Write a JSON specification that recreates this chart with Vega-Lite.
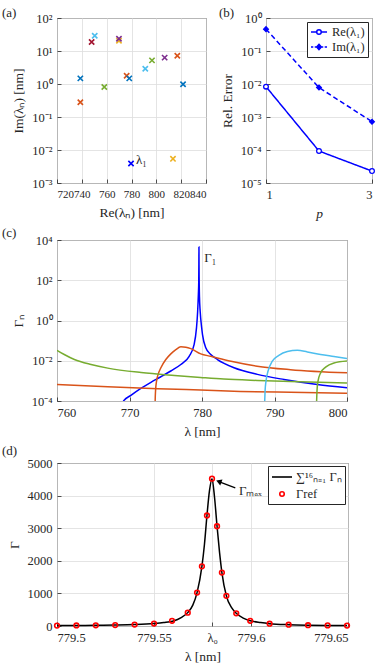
{
  "$schema": "https://vega.github.io/schema/vega-lite/v6.json",
  "padding": {"left": 1, "top": 6, "right": 0, "bottom": 0},
  "background": "white",
  "config": {
    "font": "Liberation Serif",
    "view": {"stroke": "#262626", "strokeWidth": 1},
    "axis": {
      "labelFont": "Liberation Serif", "labelFontSize": 12.5, "labelColor": "#262626", "labelOverlap": false,
      "titleFont": "Liberation Serif", "titleFontSize": 13.5, "titleFontWeight": "normal", "titleColor": "#262626",
      "domain": false, "tickColor": "#262626", "tickSize": -4, "tickWidth": 0.8, "tickCount": 20,
      "gridColor": "#dddddd", "gridWidth": 0.8, "labelPadding": 9, "titlePadding": 6
    },
    "legend": {"labelFont": "Liberation Serif", "labelFontSize": 12.5, "labelColor": "#262626"},
    "title": {"font": "Liberation Serif", "fontSize": 13, "fontWeight": "normal", "color": "#262626", "anchor": "start", "frame": "group", "offset": 0, "baseline": "alphabetic"}
  },
  "datasets": {
    "scatter": [
      {"re": 738.8, "im": 1.48, "g": "c1"},
      {"re": 738.8, "im": 0.28, "g": "c2"},
      {"re": 747.9, "im": 18.7, "g": "c7"},
      {"re": 750.4, "im": 29, "g": "c6"},
      {"re": 758.1, "im": 0.81, "g": "c5"},
      {"re": 769.9, "im": 20.5, "g": "c3"},
      {"re": 769.9, "im": 23.5, "g": "c4"},
      {"re": 776.1, "im": 1.78, "g": "c2"},
      {"re": 778.2, "im": 1.48, "g": "c1"},
      {"re": 779.6, "im": 0.0039, "g": "l1", "label": "λ₁"},
      {"re": 791.1, "im": 2.9, "g": "c6"},
      {"re": 796.5, "im": 5.2, "g": "c5"},
      {"re": 806.7, "im": 6.3, "g": "c4"},
      {"re": 816.9, "im": 7.2, "g": "c2"},
      {"re": 813.4, "im": 0.0054, "g": "c3"},
      {"re": 821.5, "im": 0.98, "g": "c1"}
    ],
    "conv": [
      {"p": 1, "err": 0.0083, "s": "Re(λ₁)"},
      {"p": 2, "err": 0.000093, "s": "Re(λ₁)"},
      {"p": 3, "err": 0.000023, "s": "Re(λ₁)"},
      {"p": 1, "err": 0.46, "s": "Im(λ₁)"},
      {"p": 2, "err": 0.0078, "s": "Im(λ₁)"},
      {"p": 3, "err": 0.00072, "s": "Im(λ₁)"}
    ],
    "curves": [
      {"lam": 769.0, "gam": 0.00006, "c": "b"},
      {"lam": 769.18, "gam": 0.0001, "c": "b"},
      {"lam": 770.19, "gam": 0.00019, "c": "b"},
      {"lam": 771.57, "gam": 0.00042, "c": "b"},
      {"lam": 772.95, "gam": 0.00085, "c": "b"},
      {"lam": 774.33, "gam": 0.0016, "c": "b"},
      {"lam": 775.7, "gam": 0.0031, "c": "b"},
      {"lam": 777.08, "gam": 0.0065, "c": "b"},
      {"lam": 778.23, "gam": 0.0166, "c": "b"},
      {"lam": 778.91, "gam": 0.063, "c": "b"},
      {"lam": 779.24, "gam": 0.43, "c": "b"},
      {"lam": 779.4, "gam": 2.8, "c": "b"},
      {"lam": 779.5, "gam": 20, "c": "b"},
      {"lam": 779.55, "gam": 80, "c": "b"},
      {"lam": 779.57, "gam": 700, "c": "b"},
      {"lam": 779.58, "gam": 4500, "c": "b"},
      {"lam": 779.59, "gam": 600, "c": "b"},
      {"lam": 779.61, "gam": 100, "c": "b"},
      {"lam": 779.65, "gam": 15, "c": "b"},
      {"lam": 779.75, "gam": 2.8, "c": "b"},
      {"lam": 779.95, "gam": 0.45, "c": "b"},
      {"lam": 780.07, "gam": 0.2, "c": "b"},
      {"lam": 780.52, "gam": 0.044, "c": "b"},
      {"lam": 781.21, "gam": 0.0204, "c": "b"},
      {"lam": 782.13, "gam": 0.0115, "c": "b"},
      {"lam": 784.42, "gam": 0.0045, "c": "b"},
      {"lam": 787.64, "gam": 0.0021, "c": "b"},
      {"lam": 791.31, "gam": 0.00117, "c": "b"},
      {"lam": 795.9, "gam": 0.00066, "c": "b"},
      {"lam": 800, "gam": 0.00046, "c": "b"},
      {"lam": 773.53, "gam": 0.00005, "c": "o1"},
      {"lam": 773.54, "gam": 0.0001, "c": "o1"},
      {"lam": 773.59, "gam": 0.00031, "c": "o1"},
      {"lam": 773.73, "gam": 0.00098, "c": "o1"},
      {"lam": 773.95, "gam": 0.0021, "c": "o1"},
      {"lam": 774.33, "gam": 0.0045, "c": "o1"},
      {"lam": 775.01, "gam": 0.0115, "c": "o1"},
      {"lam": 775.7, "gam": 0.0219, "c": "o1"},
      {"lam": 776.39, "gam": 0.0355, "c": "o1"},
      {"lam": 777.08, "gam": 0.049, "c": "o1"},
      {"lam": 777.77, "gam": 0.047, "c": "o1"},
      {"lam": 778.46, "gam": 0.04, "c": "o1"},
      {"lam": 779.83, "gam": 0.0219, "c": "o1"},
      {"lam": 781.21, "gam": 0.0166, "c": "o1"},
      {"lam": 784.0, "gam": 0.0095, "c": "o1"},
      {"lam": 787.6, "gam": 0.0054, "c": "o1"},
      {"lam": 792.2, "gam": 0.0036, "c": "o1"},
      {"lam": 800, "gam": 0.0025, "c": "o1"},
      {"lam": 760, "gam": 0.00066, "c": "o2"},
      {"lam": 767, "gam": 0.00051, "c": "o2"},
      {"lam": 773.9, "gam": 0.00041, "c": "o2"},
      {"lam": 779.8, "gam": 0.00035, "c": "o2"},
      {"lam": 785.3, "gam": 0.0003, "c": "o2"},
      {"lam": 792.2, "gam": 0.00027, "c": "o2"},
      {"lam": 800, "gam": 0.000245, "c": "o2"},
      {"lam": 760, "gam": 0.033, "c": "g1"},
      {"lam": 761.0, "gam": 0.0204, "c": "g1"},
      {"lam": 762.4, "gam": 0.0115, "c": "g1"},
      {"lam": 764.7, "gam": 0.0065, "c": "g1"},
      {"lam": 767.0, "gam": 0.0043, "c": "g1"},
      {"lam": 771.6, "gam": 0.0026, "c": "g1"},
      {"lam": 776.2, "gam": 0.00186, "c": "g1"},
      {"lam": 779.8, "gam": 0.00148, "c": "g1"},
      {"lam": 783.0, "gam": 0.00123, "c": "g1"},
      {"lam": 787.6, "gam": 0.00105, "c": "g1"},
      {"lam": 792.2, "gam": 0.00093, "c": "g1"},
      {"lam": 800, "gam": 0.00079, "c": "g1"},
      {"lam": 788.62, "gam": 0.00005, "c": "lb"},
      {"lam": 788.65, "gam": 0.0001, "c": "lb"},
      {"lam": 788.7, "gam": 0.00031, "c": "lb"},
      {"lam": 788.83, "gam": 0.00098, "c": "lb"},
      {"lam": 789.1, "gam": 0.003, "c": "lb"},
      {"lam": 789.7, "gam": 0.0095, "c": "lb"},
      {"lam": 790.6, "gam": 0.0186, "c": "lb"},
      {"lam": 791.78, "gam": 0.0288, "c": "lb"},
      {"lam": 793.15, "gam": 0.0331, "c": "lb"},
      {"lam": 794.53, "gam": 0.0275, "c": "lb"},
      {"lam": 796.36, "gam": 0.0204, "c": "lb"},
      {"lam": 798.2, "gam": 0.0162, "c": "lb"},
      {"lam": 800, "gam": 0.0129, "c": "lb"},
      {"lam": 795.78, "gam": 0.00005, "c": "g2"},
      {"lam": 795.81, "gam": 0.0001, "c": "g2"},
      {"lam": 795.86, "gam": 0.00031, "c": "g2"},
      {"lam": 796.0, "gam": 0.00098, "c": "g2"},
      {"lam": 796.36, "gam": 0.0025, "c": "g2"},
      {"lam": 797.05, "gam": 0.0048, "c": "g2"},
      {"lam": 798.2, "gam": 0.0078, "c": "g2"},
      {"lam": 800, "gam": 0.0098, "c": "g2"}
    ],
    "sum": [
      {"lam": 779.5, "g": 12}, {"lam": 779.51, "g": 15}, {"lam": 779.52, "g": 20},
      {"lam": 779.53, "g": 28}, {"lam": 779.54, "g": 43}, {"lam": 779.55, "g": 75},
      {"lam": 779.555, "g": 105}, {"lam": 779.56, "g": 155}, {"lam": 779.564, "g": 260},
      {"lam": 779.5674, "g": 410}, {"lam": 779.57, "g": 640}, {"lam": 779.5722, "g": 1025},
      {"lam": 779.5747, "g": 1830}, {"lam": 779.576, "g": 2500}, {"lam": 779.5773, "g": 3390},
      {"lam": 779.5786, "g": 4150}, {"lam": 779.5799, "g": 4520}, {"lam": 779.5812, "g": 3950},
      {"lam": 779.5825, "g": 3060}, {"lam": 779.5838, "g": 2250}, {"lam": 779.585, "g": 1640},
      {"lam": 779.5873, "g": 925}, {"lam": 779.59, "g": 560}, {"lam": 779.5924, "g": 390},
      {"lam": 779.596, "g": 240}, {"lam": 779.5996, "g": 160}, {"lam": 779.605, "g": 105},
      {"lam": 779.6096, "g": 72}, {"lam": 779.6194, "g": 40}, {"lam": 779.6294, "g": 25},
      {"lam": 779.6395, "g": 18}, {"lam": 779.6495, "g": 12}
    ],
    "ref": [
      {"lam": 779.5, "g": 12}, {"lam": 779.51, "g": 16}, {"lam": 779.52, "g": 21},
      {"lam": 779.53, "g": 28}, {"lam": 779.54, "g": 44}, {"lam": 779.55, "g": 75},
      {"lam": 779.5593, "g": 160}, {"lam": 779.5674, "g": 410}, {"lam": 779.5722, "g": 1025},
      {"lam": 779.5747, "g": 1830}, {"lam": 779.5773, "g": 3390}, {"lam": 779.5799, "g": 4520},
      {"lam": 779.5825, "g": 3060}, {"lam": 779.585, "g": 1640}, {"lam": 779.5873, "g": 925},
      {"lam": 779.5924, "g": 390}, {"lam": 779.5996, "g": 160}, {"lam": 779.6096, "g": 70},
      {"lam": 779.6194, "g": 40}, {"lam": 779.6294, "g": 25}, {"lam": 779.6395, "g": 18},
      {"lam": 779.6495, "g": 12}
    ]
  },
  "bounds": "full",
  "spacing": 5,
  "resolve": {
    "scale": {"color": "independent", "shape": "independent", "fill": "independent", "stroke": "independent", "strokeDash": "independent"},
    "legend": {"color": "independent", "shape": "independent", "fill": "independent", "stroke": "independent", "strokeDash": "independent"}
  },
  "vconcat": [
    {
      "bounds": "flush",
      "spacing": 60,
      "resolve": {
        "scale": {"color": "independent", "shape": "independent", "fill": "independent", "stroke": "independent", "strokeDash": "independent"},
        "legend": {"color": "independent", "shape": "independent", "fill": "independent", "stroke": "independent", "strokeDash": "independent"}
      },
      "hconcat": [
        {
          "width": 149, "height": 165,
          "title": {"text": "(a)", "dx": -55, "dy": 12},
          "data": {"name": "scatter"},
          "layer": [
            {
              "mark": {"type": "point", "shape": "M-1,-1L1,1M-1,1L1,-1", "filled": false, "strokeWidth": 1.6, "size": 28, "opacity": 1},
              "encoding": {
                "x": {"field": "re", "type": "quantitative", "scale": {"domain": [720, 840], "nice": false, "zero": false},
                      "axis": {"values": [720, 740, 760, 780, 800, 820, 840], "tickCount": 20, "title": "Re(λₙ) [nm]", "labelOverlap": false, "labelFontSize": 11}},
                "y": {"field": "im", "type": "quantitative", "scale": {"type": "log", "domain": [0.001, 100], "nice": false},
                      "axis": {"values": [0.001, 0.01, 0.1, 1, 10, 100], "tickCount": 20, "title": "Im(λₙ) [nm]", "labelOverlap": false,
                               "labelExpr": "'10' + replace(replace(replace(replace(replace(replace(replace('' + round(log(datum.value)/LN10), '-', '⁻'), '0', '⁰'), '1', '¹'), '2', '²'), '3', '³'), '4', '⁴'), '5', '⁵')"}},
                "color": {"field": "g", "type": "nominal", "legend": null,
                          "scale": {"domain": ["c1", "c2", "c3", "c4", "c5", "c6", "c7", "l1"],
                                    "range": ["#0072BD", "#D95319", "#EDB120", "#7E2F8E", "#77AC30", "#4DBEEE", "#A2142F", "#0000FF"]}}
              }
            },
            {
              "transform": [{"filter": "datum.label != null"}],
              "mark": {"type": "text", "align": "left", "baseline": "middle", "dx": 5, "dy": -3, "fontSize": 13, "font": "Liberation Serif", "color": "#262626"},
              "encoding": {
                "x": {"field": "re", "type": "quantitative"},
                "y": {"field": "im", "type": "quantitative"},
                "text": {"field": "label"}
              }
            }
          ]
        },
        {
          "width": 106, "height": 165,
          "title": {"text": "(b)", "dx": -47, "dy": 12},
          "data": {"name": "conv"},
          "layer": [
            {
              "mark": {"type": "line", "color": "#0000FF", "strokeWidth": 1.5},
              "encoding": {
                "x": {"field": "p", "type": "quantitative", "scale": {"domain": [1, 3], "nice": false, "zero": false},
                      "axis": {"values": [1, 2, 3], "tickCount": 20, "title": "p", "titleFontStyle": "italic", "format": "d", "labelOverlap": false}},
                "y": {"field": "err", "type": "quantitative", "scale": {"type": "log", "domain": [0.00001, 1], "nice": false},
                      "axis": {"values": [0.00001, 0.0001, 0.001, 0.01, 0.1, 1], "tickCount": 20, "title": "Rel. Error", "labelOverlap": false,
                               "labelExpr": "'10' + replace(replace(replace(replace(replace(replace(replace('' + round(log(datum.value)/LN10), '-', '⁻'), '0', '⁰'), '1', '¹'), '2', '²'), '3', '³'), '4', '⁴'), '5', '⁵')"}},
                "strokeDash": {"field": "s", "type": "nominal", "legend": null,
                               "scale": {"domain": ["Re(λ₁)", "Im(λ₁)"], "range": [[1, 0], [5, 3]]}}
              }
            },
            {
              "mark": {"type": "point", "filled": true, "stroke": "#0000FF", "strokeWidth": 1.3, "size": 22, "opacity": 1},
              "encoding": {
                "x": {"field": "p", "type": "quantitative"},
                "y": {"field": "err", "type": "quantitative"},
                "shape": {"field": "s", "type": "nominal", "legend": null,
                          "scale": {"domain": ["Re(λ₁)", "Im(λ₁)"], "range": ["circle", "diamond"]}},
                "fill": {"field": "s", "type": "nominal", "legend": null,
                         "scale": {"domain": ["Re(λ₁)", "Im(λ₁)"], "range": ["white", "#0000FF"]}}
              }
            },
            {
              "transform": [{"filter": "false"}],
              "mark": {"type": "point", "filled": true, "strokeWidth": 1.3, "opacity": 1},
              "encoding": {
                "x": {"field": "p", "type": "quantitative"},
                "y": {"field": "err", "type": "quantitative"},
                "shape": {"field": "s", "type": "nominal", "title": null,
                          "scale": {"domain": ["Re(λ₁)", "Im(λ₁)"],
                                    "range": ["M-1,0H-0.05M0.71,0H1.67M0.71,0A0.38,0.38 0 1 1 -0.05,0A0.38,0.38 0 1 1 0.71,0",
                                              "M-1,0H-0.62M-0.38,0H-0.06M0.72,0H1.04M1.28,0H1.67M0.33,-0.45L0.72,0L0.33,0.45L-0.06,0Z"]},
                          "legend": {"orient": "top-right", "offset": 4, "padding": 3, "strokeColor": "#262626", "fillColor": "white",
                                     "symbolSize": 144, "symbolStrokeWidth": 1.5, "rowPadding": 1, "labelOffset": 8}},
                "fill": {"field": "s", "type": "nominal", "title": null,
                         "scale": {"domain": ["Re(λ₁)", "Im(λ₁)"], "range": ["white", "#0000FF"]},
                         "legend": {"orient": "top-right", "offset": 4, "padding": 3, "strokeColor": "#262626", "fillColor": "white",
                                    "symbolSize": 144, "symbolStrokeWidth": 1.5, "rowPadding": 1, "labelOffset": 8}},
                "stroke": {"field": "s", "type": "nominal", "title": null,
                           "scale": {"domain": ["Re(λ₁)", "Im(λ₁)"], "range": ["#0000FF", "#0000FF"]},
                           "legend": {"orient": "top-right", "offset": 4, "padding": 3, "strokeColor": "#262626", "fillColor": "white",
                                      "symbolSize": 144, "symbolStrokeWidth": 1.5, "rowPadding": 1, "labelOffset": 8}}
              }
            }
          ],
          "resolve": {"scale": {"shape": "independent", "fill": "independent", "stroke": "independent"}, "legend": {"shape": "independent", "fill": "independent", "stroke": "independent"}}
        }
      ]
    },
    {
      "bounds": "full",
      "spacing": 5,
      "resolve": {
        "scale": {"color": "independent", "shape": "independent", "stroke": "independent"},
        "legend": {"color": "independent", "shape": "independent", "stroke": "independent"}
      },
      "vconcat": [
        {
          "width": 290, "height": 161,
          "title": {"text": "(c)", "dx": -55, "dy": 10},
          "data": {"name": "curves"},
          "layer": [
            {
              "mark": {"type": "line", "strokeWidth": 1.5, "clip": true, "interpolate": "monotone"},
              "encoding": {
                "x": {"field": "lam", "type": "quantitative", "scale": {"domain": [760, 800], "nice": false, "zero": false},
                      "axis": {"values": [760, 770, 780, 790, 800], "tickCount": 20, "title": "λ [nm]", "labelOverlap": false}},
                "y": {"field": "gam", "type": "quantitative", "scale": {"type": "log", "domain": [0.0001, 10000], "nice": false},
                      "axis": {"values": [0.0001, 0.01, 1, 100, 10000], "tickCount": 20, "title": "Γₙ", "labelOverlap": false,
                               "labelExpr": "'10' + replace(replace(replace(replace(replace(replace(replace('' + round(log(datum.value)/LN10), '-', '⁻'), '0', '⁰'), '1', '¹'), '2', '²'), '3', '³'), '4', '⁴'), '5', '⁵')"}},
                "color": {"field": "c", "type": "nominal", "legend": null,
                          "scale": {"domain": ["g1", "o2", "o1", "lb", "g2", "b"],
                                    "range": ["#77AC30", "#D95319", "#D95319", "#4DBEEE", "#77AC30", "#0000FF"]}}
              }
            },
            {
              "data": {"values": [{"lam": 780.3, "gam": 1300, "t": "Γ₁"}]},
              "mark": {"type": "text", "align": "left", "baseline": "middle", "fontSize": 13, "font": "Liberation Serif", "color": "#262626"},
              "encoding": {
                "x": {"field": "lam", "type": "quantitative"},
                "y": {"field": "gam", "type": "quantitative"},
                "text": {"field": "t"}
              }
            }
          ]
        },
        {
          "width": 291, "height": 163,
          "title": {"text": "(d)", "dx": -55, "dy": 5},
          "layer": [
            {
              "data": {"name": "sum"},
              "mark": {"type": "line", "color": "black", "strokeWidth": 1.5, "interpolate": "monotone"},
              "encoding": {
                "x": {"field": "lam", "type": "quantitative", "scale": {"domain": [779.5, 779.65], "nice": false, "zero": false},
                      "axis": {"values": [779.5, 779.55, 779.58, 779.6, 779.65], "tickCount": 20, "title": "λ [nm]", "labelOverlap": false,
                               "labelExpr": "abs(datum.value - 779.58) < 0.001 ? 'λ₀' : format(datum.value, '~r')"}},
                "y": {"field": "g", "type": "quantitative", "scale": {"domain": [0, 5000], "nice": false},
                      "axis": {"values": [0, 1000, 2000, 3000, 4000, 5000], "tickCount": 20, "title": "Γ", "format": "d", "labelOverlap": false}}
              }
            },
            {
              "data": {"name": "ref"},
              "mark": {"type": "point", "shape": "circle", "filled": false, "color": "#FF0000", "strokeWidth": 1.6, "size": 22, "opacity": 1},
              "encoding": {
                "x": {"field": "lam", "type": "quantitative"},
                "y": {"field": "g", "type": "quantitative"}
              }
            },
            {
              "data": {"values": [{"x1": 779.5919, "y1": 4237, "x2": 779.5834, "y2": 4431}]},
              "mark": {"type": "rule", "color": "black", "strokeWidth": 1.3},
              "encoding": {
                "x": {"field": "x1", "type": "quantitative"},
                "y": {"field": "y1", "type": "quantitative"},
                "x2": {"field": "x2"},
                "y2": {"field": "y2"}
              }
            },
            {
              "data": {"values": [{"x": 779.5834, "y": 4431}]},
              "mark": {"type": "point", "shape": "triangle-up", "filled": true, "color": "black", "size": 40, "angle": 291, "opacity": 1},
              "encoding": {
                "x": {"field": "x", "type": "quantitative"},
                "y": {"field": "y", "type": "quantitative"}
              }
            },
            {
              "data": {"values": [{"x": 779.5938, "y": 4150, "t": "Γₘₐₓ"}]},
              "mark": {"type": "text", "align": "left", "baseline": "middle", "fontSize": 13, "font": "Liberation Serif", "color": "#262626"},
              "encoding": {
                "x": {"field": "x", "type": "quantitative"},
                "y": {"field": "y", "type": "quantitative"},
                "text": {"field": "t"}
              }
            },
            {
              "data": {"name": "ref"},
              "transform": [{"filter": "false"}, {"calculate": "'a'", "as": "s"}],
              "mark": {"type": "point", "filled": false, "strokeWidth": 1.5, "opacity": 1},
              "encoding": {
                "x": {"field": "lam", "type": "quantitative"},
                "y": {"field": "g", "type": "quantitative"},
                "shape": {"field": "s", "type": "nominal", "title": null,
                          "scale": {"domain": ["∑¹⁶ₙ₌₁ Γₙ", "Γref"],
                                    "range": ["M-1,0H1.86", "M0.75,0A0.32,0.32 0 1 1 0.11,0A0.32,0.32 0 1 1 0.75,0"]},
                          "legend": {"orient": "top-right", "offset": 3, "padding": 3, "strokeColor": "#262626", "fillColor": "white",
                                     "symbolSize": 196, "symbolStrokeWidth": 1.6, "rowPadding": 2, "labelOffset": 9}},
                "stroke": {"field": "s", "type": "nominal", "title": null,
                           "scale": {"domain": ["∑¹⁶ₙ₌₁ Γₙ", "Γref"], "range": ["black", "#FF0000"]},
                           "legend": {"orient": "top-right", "offset": 3, "padding": 3, "strokeColor": "#262626", "fillColor": "white",
                                      "symbolSize": 196, "symbolStrokeWidth": 1.6, "rowPadding": 2, "labelOffset": 9}}
              }
            }
          ]
        }
      ]
    }
  ]
}
